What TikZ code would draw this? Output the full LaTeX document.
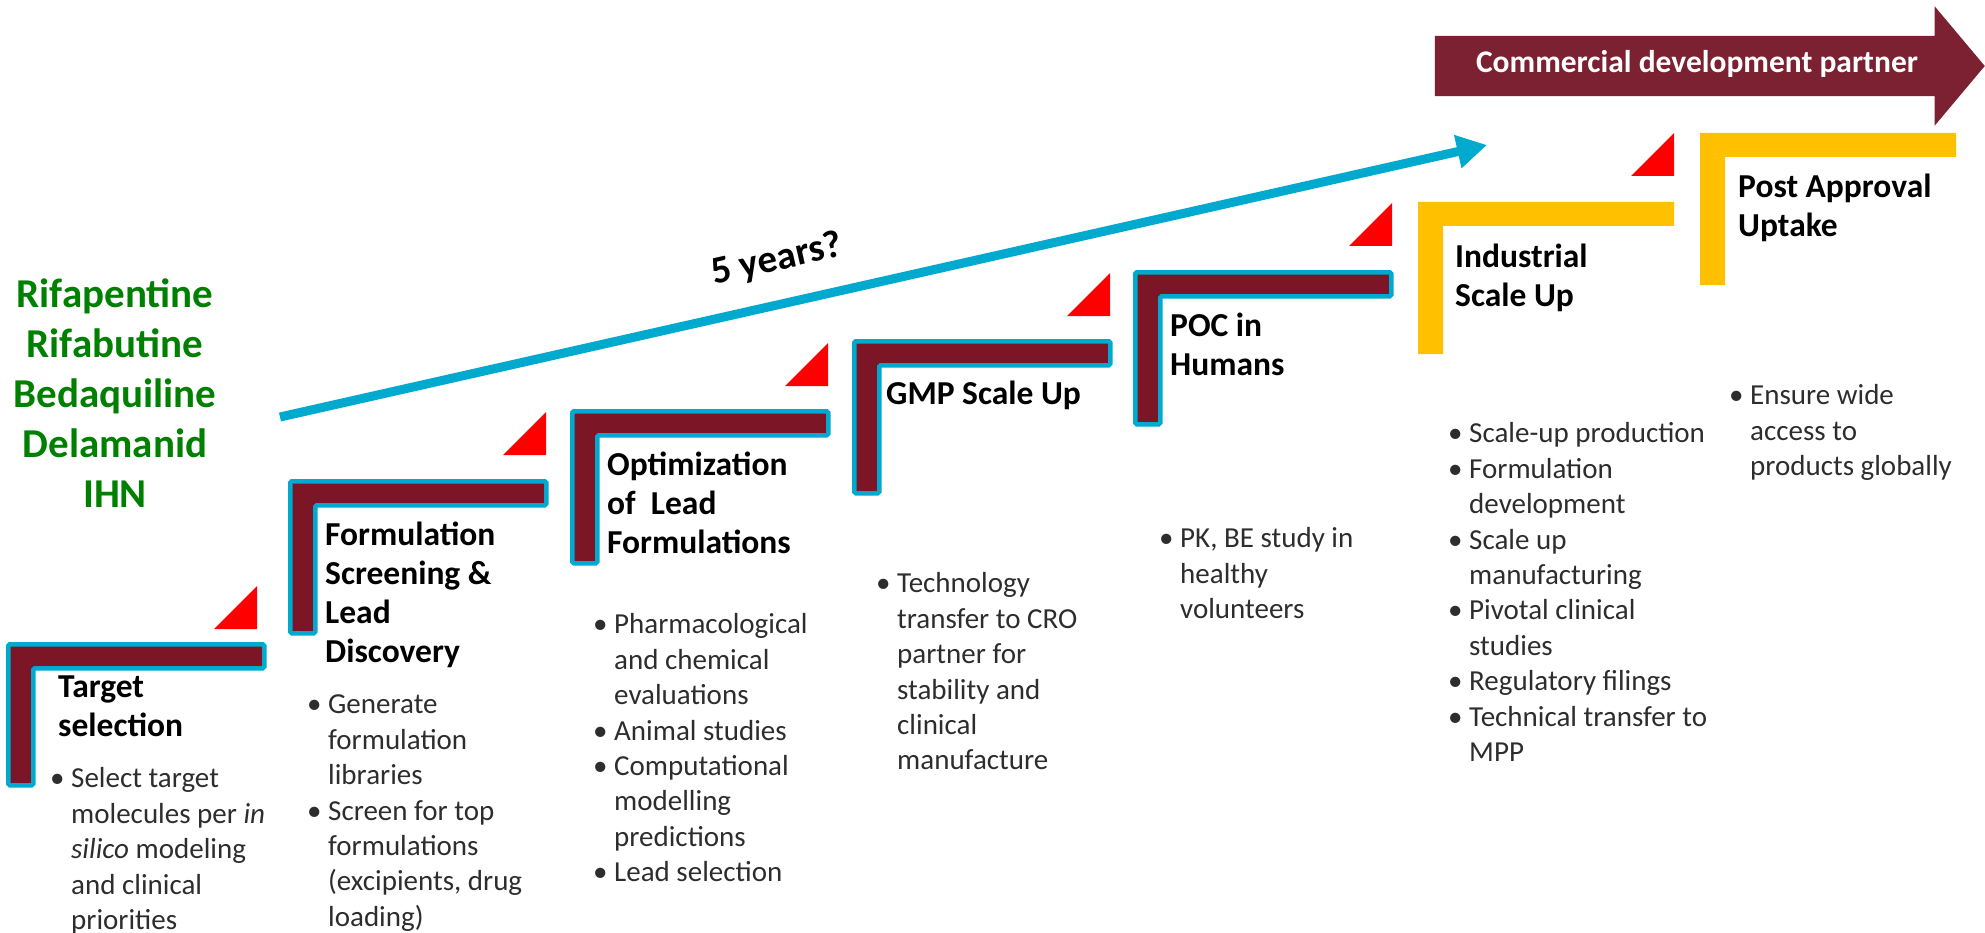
\documentclass[tikz,border=0pt]{standalone}
\usepackage{fontspec}
\setmainfont{Carlito}
\usepackage{tikz}
\usetikzlibrary{arrows.meta, positioning, shapes.arrows}
\definecolor{stepmaroon}{RGB}{124,21,38}
\definecolor{stepcyan}{RGB}{0,169,206}
\definecolor{stepyellow}{RGB}{255,192,0}
\definecolor{markred}{RGB}{255,0,0}
\definecolor{druggreen}{RGB}{0,128,0}
\definecolor{commred}{RGB}{123,33,49}
\definecolor{bodygray}{RGB}{45,45,45}
\newcommand{\itemdot}{\makebox[17pt][l]{\hspace{-4pt}\textbullet}}

\begin{document}
\begin{tikzpicture}[
    x=1pt, y=-1pt,
    every node/.style={inner sep=0pt},
    lheight/.initial=152,
    lstep/.pic={\path[pic actions] (0,0) -- (256,0) -- (256,24) -- (25,24) -- (25,\pgfkeysvalueof{/tikz/lheight}) -- (0,\pgfkeysvalueof{/tikz/lheight}) -- cycle;},
    redmark/.pic={\fill[markred] (0,0) -- (0,-43) -- (-43,0) -- cycle;},
    maroonL/.style={fill=stepmaroon, draw=stepcyan, line width=4.5pt, rounded corners=1.5pt, shift={(2.25,2.25)}},
    yellowL/.style={fill=stepyellow},
    steptitle/.style={font=\fontsize{33.5}{39}\selectfont\bfseries, text=black},
    steplist/.style={anchor=north west, font=\fontsize{29}{35.4}\selectfont, text=bodygray},
    druglist/.style={font=\fontsize{41}{50}\selectfont\bfseries, text=druggreen},
    yearlbl/.style={font=\fontsize{39}{44}\selectfont\bfseries, rotate=12.7},
    timearrow/.style={-{Triangle[length=30pt,width=32pt]}, line width=9pt, draw=stepcyan},
    commarrow/.style={single arrow, fill=commred, text=white, font=\fontsize{31.5}{36}\selectfont\bfseries, minimum height=550pt, single arrow head extend=29.5pt, single arrow tip angle=100, inner xsep=4pt, inner ysep=16pt, text height=21pt, text depth=7pt}
]
\useasboundingbox (0,0) rectangle (1985,933);

% Drug candidates
\node[druglist, anchor=north] (drugs) at (115,272) {\begin{tabular}{@{}c@{}}Rifapentine\\Rifabutine\\Bedaquiline\\Delamanid\\IHN\end{tabular}};

% Stage corners
\coordinate (tgt) at (6,642);
\coordinate (scr) at (288,479);
\coordinate (opt) at (570,409);
\coordinate (gmp) at (852,339);
\coordinate (poc) at (1133,270);
\coordinate (ind) at (1418,202);
\coordinate (post) at (1700,133);

% Step frames
\pic[maroonL, lheight=141] at (tgt) {lstep};
\pic[maroonL] at (scr) {lstep};
\pic[maroonL] at (opt) {lstep};
\pic[maroonL] at (gmp) {lstep};
\pic[maroonL] at (poc) {lstep};
\pic[yellowL] at (ind) {lstep};
\pic[yellowL] at (post) {lstep};

% Red markers
\pic at (257,629) {redmark};
\pic at (546,455) {redmark};
\pic at (828,386) {redmark};
\pic at (1110,316) {redmark};
\pic at (1392,246) {redmark};
\pic at (1674,176) {redmark};

% Stage titles
\node[steptitle, below right=28pt and 52pt of tgt] (tgtlbl) {\begin{tabular}{@{}l@{}}Target\\selection\end{tabular}};
\node[steptitle, below right=39pt and 37pt of scr] (scrlbl) {\begin{tabular}{@{}l@{}}Formulation\\Screening \&\\Lead\\Discovery\end{tabular}};
\node[steptitle, below right=39pt and 37pt of opt] (optlbl) {\begin{tabular}{@{}l@{}}Optimization\\of\ \ Lead\\Formulations\end{tabular}};
\node[steptitle, below right=38pt and 34pt of gmp] (gmplbl) {\begin{tabular}{@{}l@{}}GMP Scale Up\end{tabular}};
\node[steptitle, below right=39pt and 37pt of poc] (poclbl) {\begin{tabular}{@{}l@{}}POC in\\Humans\end{tabular}};
\node[steptitle, below right=38pt and 37pt of ind] (indlbl) {\begin{tabular}{@{}l@{}}Industrial\\Scale Up\end{tabular}};
\node[steptitle, below right=37pt and 38pt of post] (postlbl) {\begin{tabular}{@{}l@{}}Post Approval\\Uptake\end{tabular}};

% Stage activities
\node[steplist] (tgtlist) at (54,763) {\begin{tabular}{@{}l@{}l@{}}
\itemdot & Select target\\
 & molecules per \textit{in}\\
 & \textit{silico} modeling\\
 & and clinical\\
 & priorities
\end{tabular}};
\node[steplist] (scrlist) at (311,689) {\begin{tabular}{@{}l@{}l@{}}
\itemdot & Generate\\
 & formulation\\
 & libraries\\
\itemdot & Screen for top\\
 & formulations\\
 & (excipients, drug\\
 & loading)
\end{tabular}};
\node[steplist] (optlist) at (597,609) {\begin{tabular}{@{}l@{}l@{}}
\itemdot & Pharmacological\\
 & and chemical\\
 & evaluations\\
\itemdot & Animal studies\\
\itemdot & Computational\\
 & modelling\\
 & predictions\\
\itemdot & Lead selection
\end{tabular}};
\node[steplist] (gmplist) at (880,568) {\begin{tabular}{@{}l@{}l@{}}
\itemdot & Technology\\
 & transfer to CRO\\
 & partner for\\
 & stability and\\
 & clinical\\
 & manufacture
\end{tabular}};
\node[steplist] (poclist) at (1163,523) {\begin{tabular}{@{}l@{}l@{}}
\itemdot & PK, BE study in\\
 & healthy\\
 & volunteers
\end{tabular}};
\node[steplist] (indlist) at (1452,418) {\begin{tabular}{@{}l@{}l@{}}
\itemdot & Scale-up production\\
\itemdot & Formulation\\
 & development\\
\itemdot & Scale up\\
 & manufacturing\\
\itemdot & Pivotal clinical\\
 & studies\\
\itemdot & Regulatory filings\\
\itemdot & Technical transfer to\\
 & MPP
\end{tabular}};
\node[steplist] (postlist) at (1733,380) {\begin{tabular}{@{}l@{}l@{}}
\itemdot & Ensure wide\\
 & access to\\
 & products globally
\end{tabular}};

% Timeline arrow
\coordinate (tstart) at (280,417);
\coordinate (tend) at (1487,145);
\draw[timearrow] (tstart) -- (tend);
\node[yearlbl] (years) at (777,260) {5 years?};

% Partner arrow
\node[commarrow, anchor=tip] (comm) at (1985,66) {Commercial development partner};

\end{tikzpicture}
\end{document}
